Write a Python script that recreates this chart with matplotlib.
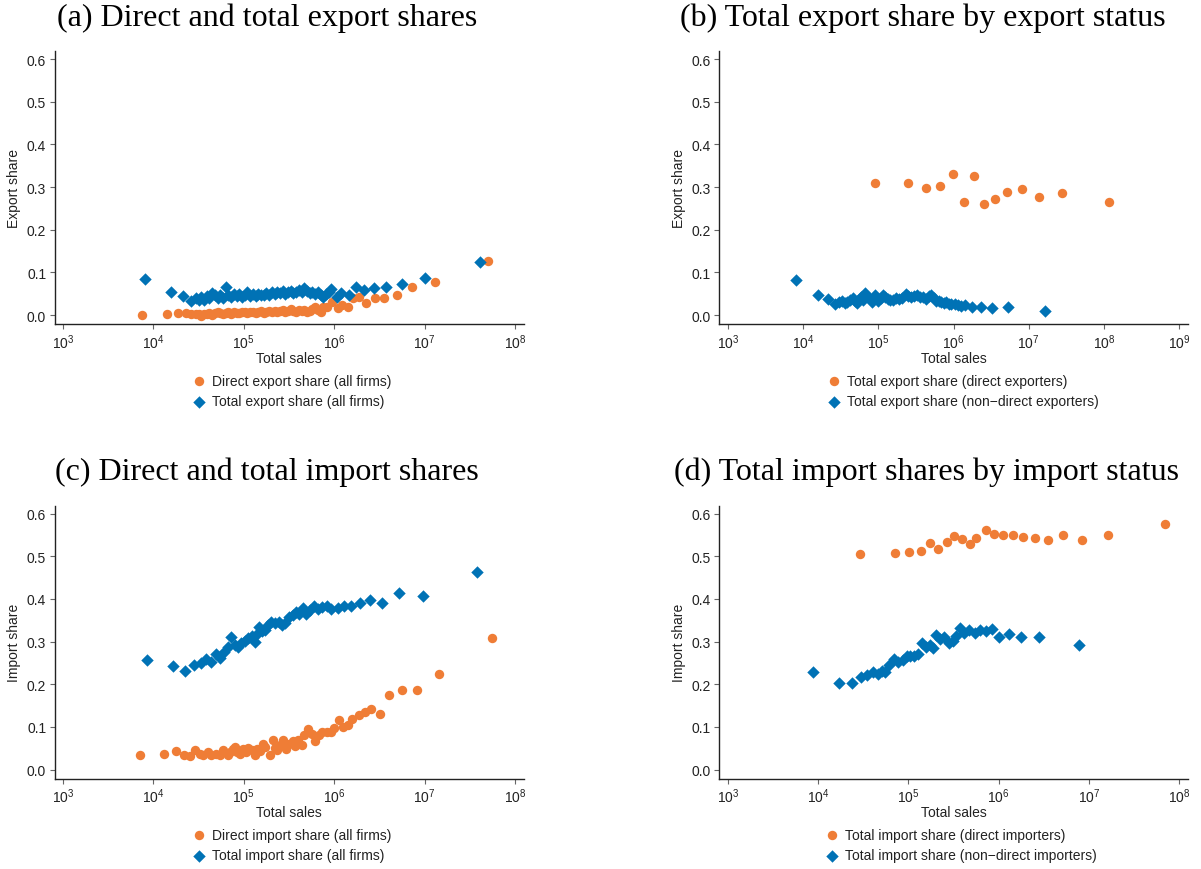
import numpy as np
import matplotlib
matplotlib.use('Agg')
import matplotlib.pyplot as plt
from matplotlib.ticker import FixedLocator, NullLocator, LogFormatterSciNotation

# ---- data: x values are log10(total sales) bin means, y are shares ----
# (a) direct and total export shares, all firms
lx_a_dir = [3.87, 4.15, 4.27, 4.36, 4.42, 4.47, 4.50, 4.53, 4.56, 4.59,
            4.62, 4.65, 4.68, 4.71, 4.74, 4.77, 4.80, 4.83, 4.86, 4.89,
            4.92, 4.95, 4.98, 5.01, 5.04, 5.07, 5.10, 5.13, 5.16, 5.19,
            5.22, 5.25, 5.28, 5.31, 5.34, 5.37, 5.40, 5.43, 5.46, 5.49,
            5.52, 5.55, 5.58, 5.61, 5.64, 5.67, 5.70, 5.73, 5.76, 5.79,
            5.82, 5.85, 5.88, 5.92, 5.98, 6.04, 6.09, 6.15, 6.21, 6.28,
            6.35, 6.45, 6.55, 6.69, 6.86, 7.11, 7.70]
y_a_dir = [0.001, 0.003, 0.005, 0.005, 0.002, 0.003, 0.002, -0.002, 0.003, 0.002,
           0.005, 0.000, 0.004, 0.006, 0.004, 0.002, 0.005, 0.006, 0.003, 0.007,
           0.005, 0.004, 0.006, 0.008, 0.004, 0.007, 0.008, 0.005, 0.006, 0.009,
           0.004, 0.008, 0.010, 0.007, 0.009, 0.006, 0.010, 0.012, 0.008, 0.009,
           0.014, 0.010, 0.008, 0.011, 0.009, 0.012, 0.007, 0.010, 0.013, 0.018,
           0.011, 0.006, 0.018, 0.018, 0.030, 0.016, 0.023, 0.019, 0.040, 0.043,
           0.028, 0.039, 0.039, 0.048, 0.066, 0.077, 0.127]
lx_a_tot = [3.91, 4.20, 4.33, 4.42, 4.47, 4.50, 4.53, 4.56, 4.59, 4.62,
            4.65, 4.68, 4.71, 4.74, 4.77, 4.80, 4.83, 4.86, 4.89, 4.92,
            4.95, 4.98, 5.01, 5.04, 5.07, 5.10, 5.13, 5.16, 5.19, 5.22,
            5.25, 5.28, 5.31, 5.34, 5.37, 5.40, 5.43, 5.46, 5.49, 5.52,
            5.55, 5.58, 5.61, 5.64, 5.67, 5.70, 5.73, 5.76, 5.79, 5.82,
            5.85, 5.88, 5.91, 5.94, 5.97, 6.03, 6.08, 6.16, 6.24, 6.33,
            6.44, 6.57, 6.75, 7.01, 7.61]
y_a_tot = [0.085, 0.055, 0.045, 0.034, 0.040, 0.036, 0.042, 0.036, 0.044, 0.040,
           0.051, 0.046, 0.041, 0.048, 0.040, 0.065, 0.046, 0.042, 0.049, 0.044,
           0.050, 0.043, 0.047, 0.053, 0.045, 0.049, 0.044, 0.050, 0.046, 0.048,
           0.051, 0.047, 0.053, 0.049, 0.055, 0.052, 0.056, 0.050, 0.054, 0.057,
           0.052, 0.055, 0.058, 0.054, 0.064, 0.056, 0.052, 0.055, 0.049, 0.053,
           0.047, 0.043, 0.050, 0.055, 0.060, 0.043, 0.052, 0.048, 0.066, 0.058,
           0.063, 0.066, 0.073, 0.086, 0.125]

# (b) total export share by export status
lx_b_dir = [4.95, 5.39, 5.63, 5.82, 5.99, 6.14, 6.27, 6.40, 6.55, 6.71,
            6.91, 7.14, 7.44, 8.07]
y_b_dir = [0.309, 0.309, 0.297, 0.302, 0.330, 0.265, 0.326, 0.261, 0.271, 0.288,
           0.295, 0.276, 0.285, 0.265]
lx_b_tot = [3.91, 4.20, 4.33, 4.43, 4.47, 4.51, 4.55, 4.585, 4.62, 4.66,
            4.69, 4.71, 4.74, 4.775, 4.80, 4.82, 4.85, 4.886, 4.92, 4.95,
            4.98, 5.00, 5.03, 5.06, 5.09, 5.13, 5.16, 5.196, 5.24, 5.28,
            5.32, 5.37, 5.40, 5.44, 5.47, 5.51, 5.55, 5.595, 5.64, 5.67,
            5.70, 5.74, 5.77, 5.81, 5.84, 5.87, 5.905, 5.94, 5.97, 6.02,
            6.06, 6.10, 6.15, 6.24, 6.36, 6.51, 6.73, 7.22]
y_b_tot = [0.081, 0.048, 0.038, 0.027, 0.030, 0.034, 0.029, 0.031, 0.036, 0.039,
           0.033, 0.028, 0.037, 0.042, 0.035, 0.052, 0.044, 0.038, 0.030, 0.046,
           0.041, 0.034, 0.040, 0.046, 0.043, 0.038, 0.035, 0.036, 0.040, 0.038,
           0.041, 0.049, 0.044, 0.042, 0.045, 0.046, 0.043, 0.042, 0.038, 0.045,
           0.047, 0.040, 0.034, 0.032, 0.031, 0.029, 0.030, 0.027, 0.026, 0.025,
           0.023, 0.021, 0.024, 0.020, 0.019, 0.016, 0.019, 0.010]

# (c) direct and total import shares, all firms
lx_c_dir = [3.85, 4.12, 4.25, 4.34, 4.40, 4.46, 4.515, 4.55, 4.60, 4.64,
            4.69, 4.74, 4.77, 4.82, 4.85, 4.88, 4.90, 4.93, 4.96, 4.99,
            5.02, 5.05, 5.09, 5.12, 5.15, 5.18, 5.21, 5.24, 5.29, 5.32,
            5.34, 5.37, 5.40, 5.43, 5.47, 5.50, 5.54, 5.565, 5.60, 5.64,
            5.67, 5.71, 5.75, 5.79, 5.83, 5.87, 5.92, 5.965, 6.00, 6.05,
            6.10, 6.15, 6.20, 6.27, 6.34, 6.41, 6.51, 6.61, 6.75, 6.92,
            7.16, 7.75]
y_c_dir = [0.035, 0.037, 0.044, 0.035, 0.031, 0.045, 0.037, 0.035, 0.041, 0.035,
           0.037, 0.034, 0.045, 0.034, 0.040, 0.048, 0.053, 0.040, 0.037, 0.048,
           0.041, 0.051, 0.045, 0.035, 0.048, 0.043, 0.061, 0.053, 0.035, 0.069,
           0.051, 0.045, 0.057, 0.069, 0.049, 0.059, 0.066, 0.055, 0.069, 0.057,
           0.080, 0.094, 0.084, 0.066, 0.082, 0.087, 0.088, 0.087, 0.098, 0.117,
           0.100, 0.105, 0.118, 0.129, 0.136, 0.143, 0.131, 0.174, 0.187, 0.187,
           0.224, 0.309]
lx_c_tot = [3.93, 4.22, 4.355, 4.45, 4.53, 4.58, 4.64, 4.69, 4.74, 4.78,
            4.82, 4.86, 4.90, 4.935, 4.97, 5.01, 5.05, 5.09, 5.12, 5.145,
            5.17, 5.20, 5.24, 5.27, 5.305, 5.34, 5.385, 5.42, 5.46, 5.50,
            5.54, 5.58, 5.61, 5.65, 5.69, 5.73, 5.775, 5.82, 5.87, 5.92,
            5.97, 6.04, 6.11, 6.19, 6.29, 6.40, 6.53, 6.72, 6.98, 7.58]
y_c_tot = [0.256, 0.242, 0.230, 0.246, 0.250, 0.260, 0.252, 0.270, 0.262, 0.275,
           0.287, 0.310, 0.291, 0.287, 0.297, 0.302, 0.308, 0.314, 0.299, 0.318,
           0.334, 0.324, 0.328, 0.338, 0.347, 0.344, 0.345, 0.339, 0.344, 0.357,
           0.363, 0.369, 0.365, 0.378, 0.365, 0.373, 0.383, 0.377, 0.380, 0.384,
           0.377, 0.378, 0.383, 0.383, 0.391, 0.398, 0.391, 0.414, 0.406, 0.464]

# (d) total import shares by import status
lx_d_dir = [4.46, 4.855, 5.01, 5.135, 5.235, 5.33, 5.425, 5.51, 5.595, 5.68,
            5.755, 5.855, 5.95, 6.05, 6.155, 6.275, 6.40, 6.545, 6.71, 6.93,
            7.21, 7.84]
y_d_dir = [0.505, 0.507, 0.511, 0.512, 0.532, 0.517, 0.533, 0.547, 0.540, 0.528,
           0.543, 0.562, 0.553, 0.551, 0.551, 0.546, 0.543, 0.538, 0.550, 0.539,
           0.550, 0.575]
lx_d_tot = [3.945, 4.235, 4.37, 4.47, 4.54, 4.605, 4.66, 4.71, 4.745, 4.79,
            4.84, 4.89, 4.935, 4.98, 5.02, 5.065, 5.105, 5.15, 5.19, 5.235,
            5.27, 5.31, 5.355, 5.395, 5.445, 5.49, 5.53, 5.575, 5.615, 5.67,
            5.735, 5.795, 5.865, 5.925, 6.01, 6.11, 6.245, 6.445, 6.895]
y_d_tot = [0.228, 0.203, 0.203, 0.217, 0.221, 0.228, 0.225, 0.232, 0.228, 0.244,
           0.260, 0.252, 0.256, 0.267, 0.267, 0.267, 0.271, 0.296, 0.287, 0.291,
           0.285, 0.316, 0.306, 0.310, 0.297, 0.302, 0.314, 0.331, 0.320, 0.328,
           0.320, 0.328, 0.324, 0.330, 0.310, 0.318, 0.310, 0.310, 0.293]

titles = ['(a) Direct and total export shares',
          '(b) Total export share by export status',
          '(c) Direct and total import shares',
          '(d) Total import shares by import status']
legend_labels = [['Direct export share (all firms)', 'Total export share (all firms)'],
                 ['Total export share (direct exporters)', 'Total export share (non\u2212direct exporters)'],
                 ['Direct import share (all firms)', 'Total import share (all firms)'],
                 ['Total import share (direct importers)', 'Total import share (non\u2212direct importers)']]
ylabels = ['Export share', 'Export share', 'Import share', 'Import share']
y_ticks = [0.0, 0.1, 0.2, 0.3, 0.4, 0.5, 0.6]

ORANGE = '#EF7D36'
BLUE = '#0072B5'

plt.rcParams['font.family'] = ['Liberation Sans', 'DejaVu Sans']
plt.rcParams['mathtext.default'] = 'regular'

W, H = 1201, 870
fig = plt.figure(figsize=(W / 100, H / 100), dpi=100)


def px_axes(left, right, top, bottom):
    return fig.add_axes([left / W, 1 - bottom / H, (right - left) / W, (bottom - top) / H])


# panel layout in pixels: left, right, top, bottom, log10 x-limits, max decade
panels = [
    dict(box=(54.5, 524, 52, 325), xl=(2.906, 8.10), dmax=8, title_xy=(267, 18), leg_xy=(193.5, 375)),
    dict(box=(719, 1188, 52, 325), xl=(2.88, 9.12), dmax=9, title_xy=(923, 18), leg_xy=(828.5, 375)),
    dict(box=(54.5, 524, 506.5, 779.5), xl=(2.906, 8.10), dmax=8, title_xy=(267, 472), leg_xy=(193.5, 829)),
    dict(box=(719, 1188, 506.5, 779.5), xl=(2.90, 8.10), dmax=8, title_xy=(926, 472), leg_xy=(826.5, 829)),
]
series = [(lx_a_dir, y_a_dir, lx_a_tot, y_a_tot),
          (lx_b_dir, y_b_dir, lx_b_tot, y_b_tot),
          (lx_c_dir, y_c_dir, lx_c_tot, y_c_tot),
          (lx_d_dir, y_d_dir, lx_d_tot, y_d_tot)]

for i, p in enumerate(panels):
    ax = px_axes(*p['box'])
    lxo, yo, lxb, yb = series[i]
    h1 = ax.scatter(10 ** np.array(lxo), yo, s=46, marker='o', color=ORANGE, linewidths=0, zorder=3)
    h2 = ax.scatter(10 ** np.array(lxb), yb, s=40, marker='D', color=BLUE, linewidths=0, zorder=3)

    ax.set_xscale('log')
    ax.set_xlim(10 ** p['xl'][0], 10 ** p['xl'][1])
    ax.set_ylim(-0.021, 0.619)
    ax.xaxis.set_major_locator(FixedLocator([10.0 ** k for k in range(3, p['dmax'] + 1)]))
    ax.xaxis.set_major_formatter(LogFormatterSciNotation())
    ax.xaxis.set_minor_locator(NullLocator())
    ax.set_yticks(y_ticks)
    ax.set_yticklabels([f'{v:.1f}' for v in y_ticks])

    for side in ['top', 'right']:
        ax.spines[side].set_visible(False)
    for side in ['left', 'bottom']:
        ax.spines[side].set_color('#222222')
        ax.spines[side].set_linewidth(1.0)
    ax.tick_params(direction='out', length=3.5, width=0.8, color='#666666',
                   labelsize=10, labelcolor='#222222', pad=2.5)

    ax.set_xlabel('Total sales', fontsize=10, color='#222222', labelpad=0)
    ax.set_ylabel(ylabels[i], fontsize=10, color='#222222', labelpad=4)

    tx, ty = p['title_xy']
    fig.text(tx / W, 1 - ty / H, titles[i], ha='center', va='center',
             fontsize=23, family='Liberation Serif', color='black')

    lx, ly = p['leg_xy']
    ax.legend([h1, h2], legend_labels[i], loc='upper left',
              bbox_to_anchor=(lx / W, 1 - ly / H), bbox_transform=fig.transFigure,
              frameon=False, fontsize=10, handlelength=0.8, handletextpad=0.5,
              labelspacing=0.45, borderpad=0, borderaxespad=0, scatterpoints=1,
              labelcolor='#222222')

fig.savefig('out.png', dpi=100)
